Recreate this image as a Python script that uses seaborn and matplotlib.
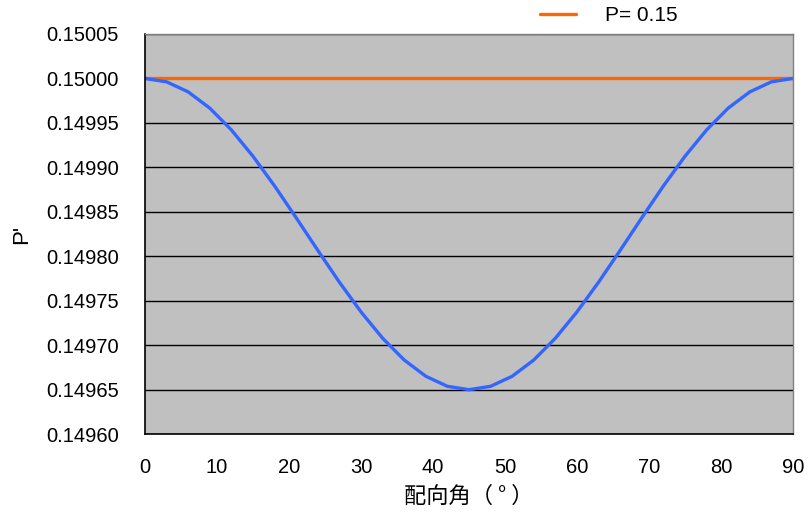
import pandas as pd
import seaborn as sns
import matplotlib.pyplot as plt

# orientation angle (deg) and P'
angle = [0, 3, 6, 9, 12, 15, 18, 21, 24, 27, 30, 33, 36, 39, 42, 45,
         48, 51, 54, 57, 60, 63, 66, 69, 72, 75, 78, 81, 84, 87, 90]
p_prime = [0.1500000, 0.1499962, 0.1499849, 0.1499666, 0.1499421, 0.1499125,
           0.1498791, 0.1498433, 0.1498067, 0.1497709, 0.1497375, 0.1497079,
           0.1496834, 0.1496651, 0.1496538, 0.1496500,
           0.1496538, 0.1496651, 0.1496834, 0.1497079, 0.1497375, 0.1497709,
           0.1498067, 0.1498433, 0.1498791, 0.1499125, 0.1499421, 0.1499666,
           0.1499849, 0.1499962, 0.1500000]
p_const = [0.15] * len(angle)
yticks = [0.14960, 0.14965, 0.14970, 0.14975, 0.14980, 0.14985,
          0.14990, 0.14995, 0.15000, 0.15005]
xticks = [0, 10, 20, 30, 40, 50, 60, 70, 80, 90]

df = pd.DataFrame({'angle': angle, 'p_prime': p_prime, 'p_const': p_const})

sns.set_style('white')
plt.rcParams['font.family'] = ['Liberation Sans', 'Noto Sans CJK JP', 'DejaVu Sans']
plt.rcParams['text.color'] = 'black'
plt.rcParams['axes.labelcolor'] = 'black'
plt.rcParams['xtick.color'] = 'black'
plt.rcParams['ytick.color'] = 'black'

fig = plt.figure(figsize=(8.1, 5.15), dpi=100)
ax = fig.add_axes([0.179, 0.157, 0.800, 0.777])
ax.set_facecolor('#C0C0C0')

sns.lineplot(data=df, x='angle', y='p_const', ax=ax, color='#FF6600', lw=2.4, label='P= 0.15')
sns.lineplot(data=df, x='angle', y='p_prime', ax=ax, color='#3366FF', lw=2.4, label='_nolegend_')

ax.set_xlim(0, 90)
ax.set_ylim(0.14960, 0.15005)
ax.set_xticks(xticks)
ax.set_yticks(yticks)
ax.set_yticklabels([f'{v:.5f}' for v in yticks])
ax.yaxis.grid(True, color='black', lw=1)
ax.set_axisbelow(True)
ax.tick_params(direction='in', labelsize=14.5, length=5)
ax.tick_params(axis='x', pad=17)
ax.tick_params(axis='y', pad=19)

for s in ['left', 'bottom']:
    ax.spines[s].set_color('black')
    ax.spines[s].set_linewidth(1.2)
for s in ['top', 'right']:
    ax.spines[s].set_color('#808080')
    ax.spines[s].set_linewidth(1)

ax.set_xlabel('配向角（ ° ）', fontsize=16, labelpad=6,
              family=['Noto Sans CJK JP', 'DejaVu Sans'])
ax.set_ylabel("P'", fontsize=16, labelpad=10)

ax.legend(loc='lower right', bbox_to_anchor=(0.851, 0.975), frameon=False,
          fontsize=15, handlelength=1.7, handletextpad=1.4)

fig.savefig('out.png', dpi=100)
